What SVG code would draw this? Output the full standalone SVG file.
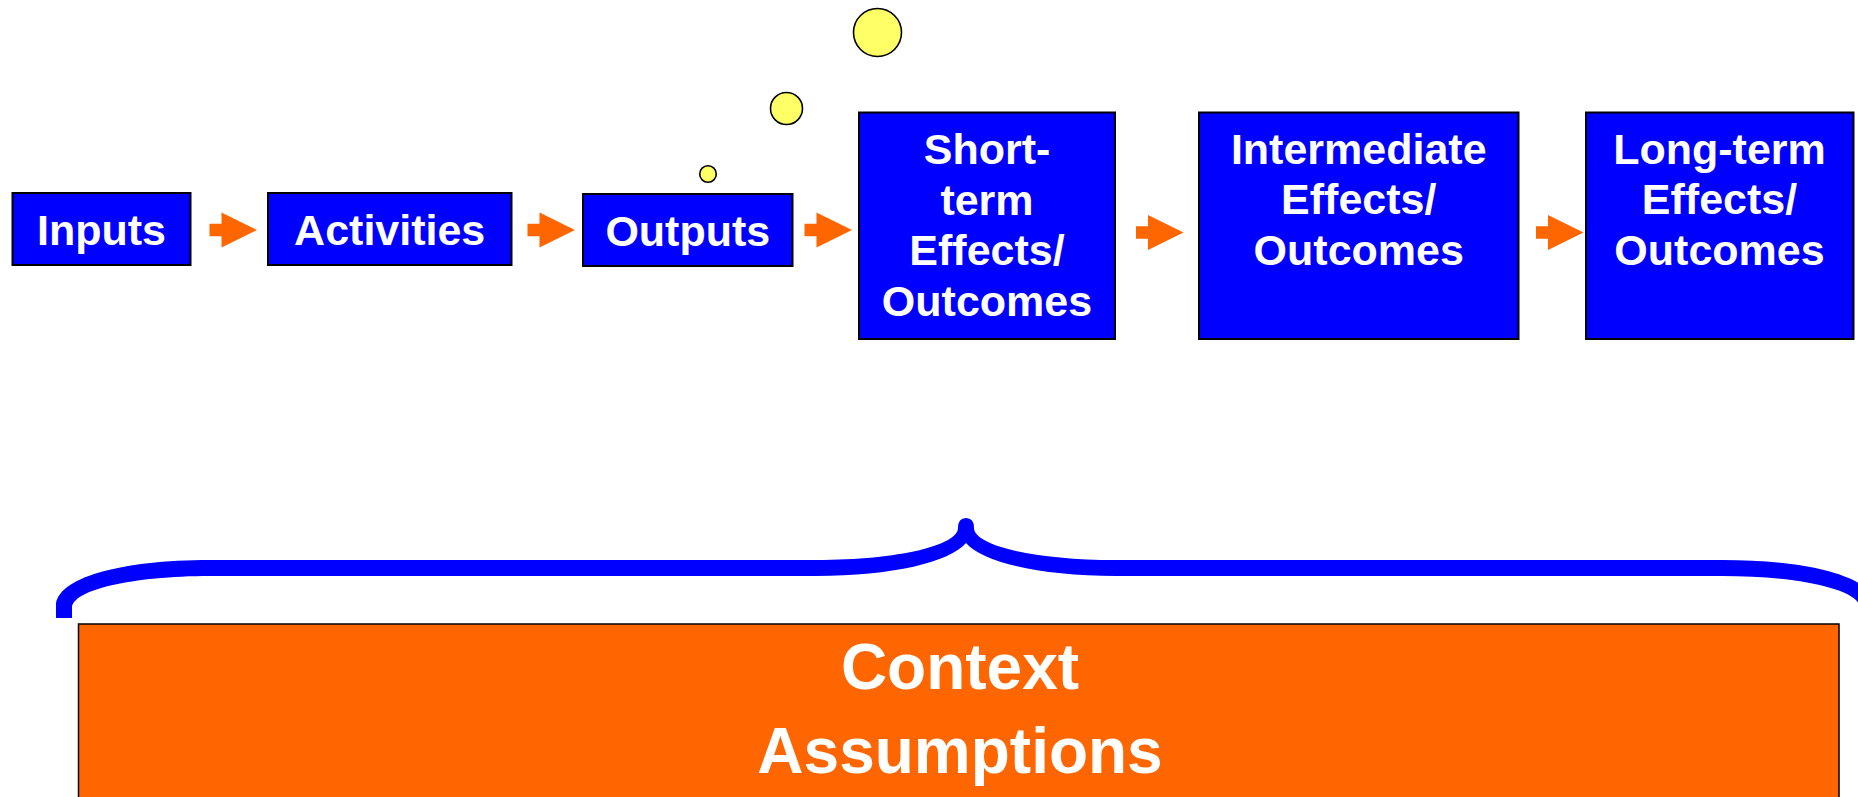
<svg xmlns="http://www.w3.org/2000/svg" width="1858" height="797" viewBox="0 0 1858 797">
<style>
.box{fill:#0000FF;stroke:#000;stroke-width:2}
.lbl{font-family:"Liberation Sans",Arial,sans-serif;font-weight:bold;font-size:43px;fill:#fff;text-anchor:middle}
.big{font-family:"Liberation Sans",Arial,sans-serif;font-weight:bold;font-size:64px;fill:#fff;text-anchor:middle}
.arr{fill:#FF6600}
.dot{fill:#FFFF66;stroke:#000;stroke-width:1.6}
</style>
<defs>
<path id="arrow" d="M -35.5 -17.5 L 0 0 L -35.5 17.5 L -35.5 6.2 L -47.5 6.2 L -47.5 -6.2 L -35.5 -6.2 Z"/>
</defs>
<rect width="1858" height="797" fill="#fff"/>
<g id="bubbles">
<circle class="dot" cx="708" cy="174" r="8.3"/>
<circle class="dot" cx="786.5" cy="108.5" r="16"/>
<circle class="dot" cx="877.5" cy="32.5" r="24"/>
</g>
<g id="connectors">
<use href="#arrow" class="arr" x="257" y="230"/>
<use href="#arrow" class="arr" x="575" y="230"/>
<use href="#arrow" class="arr" x="852" y="230"/>
<use href="#arrow" class="arr" x="1183.5" y="232.5"/>
<use href="#arrow" class="arr" x="1583.5" y="232.5"/>
</g>
<g id="inputs">
<rect class="box" x="12.5" y="193" width="178" height="72"/>
<text class="lbl" x="101.5" y="245">Inputs</text>
</g>
<g id="activities">
<rect class="box" x="268" y="193" width="243.5" height="72"/>
<text class="lbl" x="389.7" y="245">Activities</text>
</g>
<g id="outputs">
<rect class="box" x="583" y="194" width="209.5" height="72"/>
<text class="lbl" x="687.8" y="245.5">Outputs</text>
</g>
<g id="short-term">
<rect class="box" x="859" y="112.5" width="256" height="226.5"/>
<text class="lbl" x="987" y="164">Short-</text>
<text class="lbl" x="987" y="214.5">term</text>
<text class="lbl" x="987" y="265">Effects/</text>
<text class="lbl" x="987" y="315.5">Outcomes</text>
</g>
<g id="intermediate">
<rect class="box" x="1199" y="112.5" width="319.5" height="226.5"/>
<text class="lbl" x="1358.75" y="163.5">Intermediate</text>
<text class="lbl" x="1358.75" y="214">Effects/</text>
<text class="lbl" x="1358.75" y="264.5">Outcomes</text>
</g>
<g id="long-term">
<rect class="box" x="1586" y="112.5" width="267.5" height="226.5"/>
<text class="lbl" x="1719.5" y="163.5">Long-term</text>
<text class="lbl" x="1719.5" y="214">Effects/</text>
<text class="lbl" x="1719.5" y="264.5">Outcomes</text>
</g>
<g id="brace">
<path fill="#0000FF" d="M 56 618 L 56 606 C 56 578 120 560 210 560 L 816 560 C 900 560 958 545 958 528 Q 958 518 966 518 Q 974 518 974 528 C 974 545 1032 560 1116 560 L 1722 560 C 1812 560 1876 578 1876 606 L 1876 618 L 1860 618 L 1860 608 C 1860 590 1800 576 1722 576 L 1116 576 C 1040 576 982 562 966 543 C 950 562 892 576 816 576 L 210 576 C 132 576 72 590 72 608 L 72 618 Z"/>
</g>
<g id="context">
<rect x="78.5" y="624" width="1760.5" height="200" fill="#FF6600" stroke="#000" stroke-width="1.5"/>
<text class="big" x="960" y="689">Context</text>
<text class="big" x="960" y="773">Assumptions</text>
</g>
</svg>
